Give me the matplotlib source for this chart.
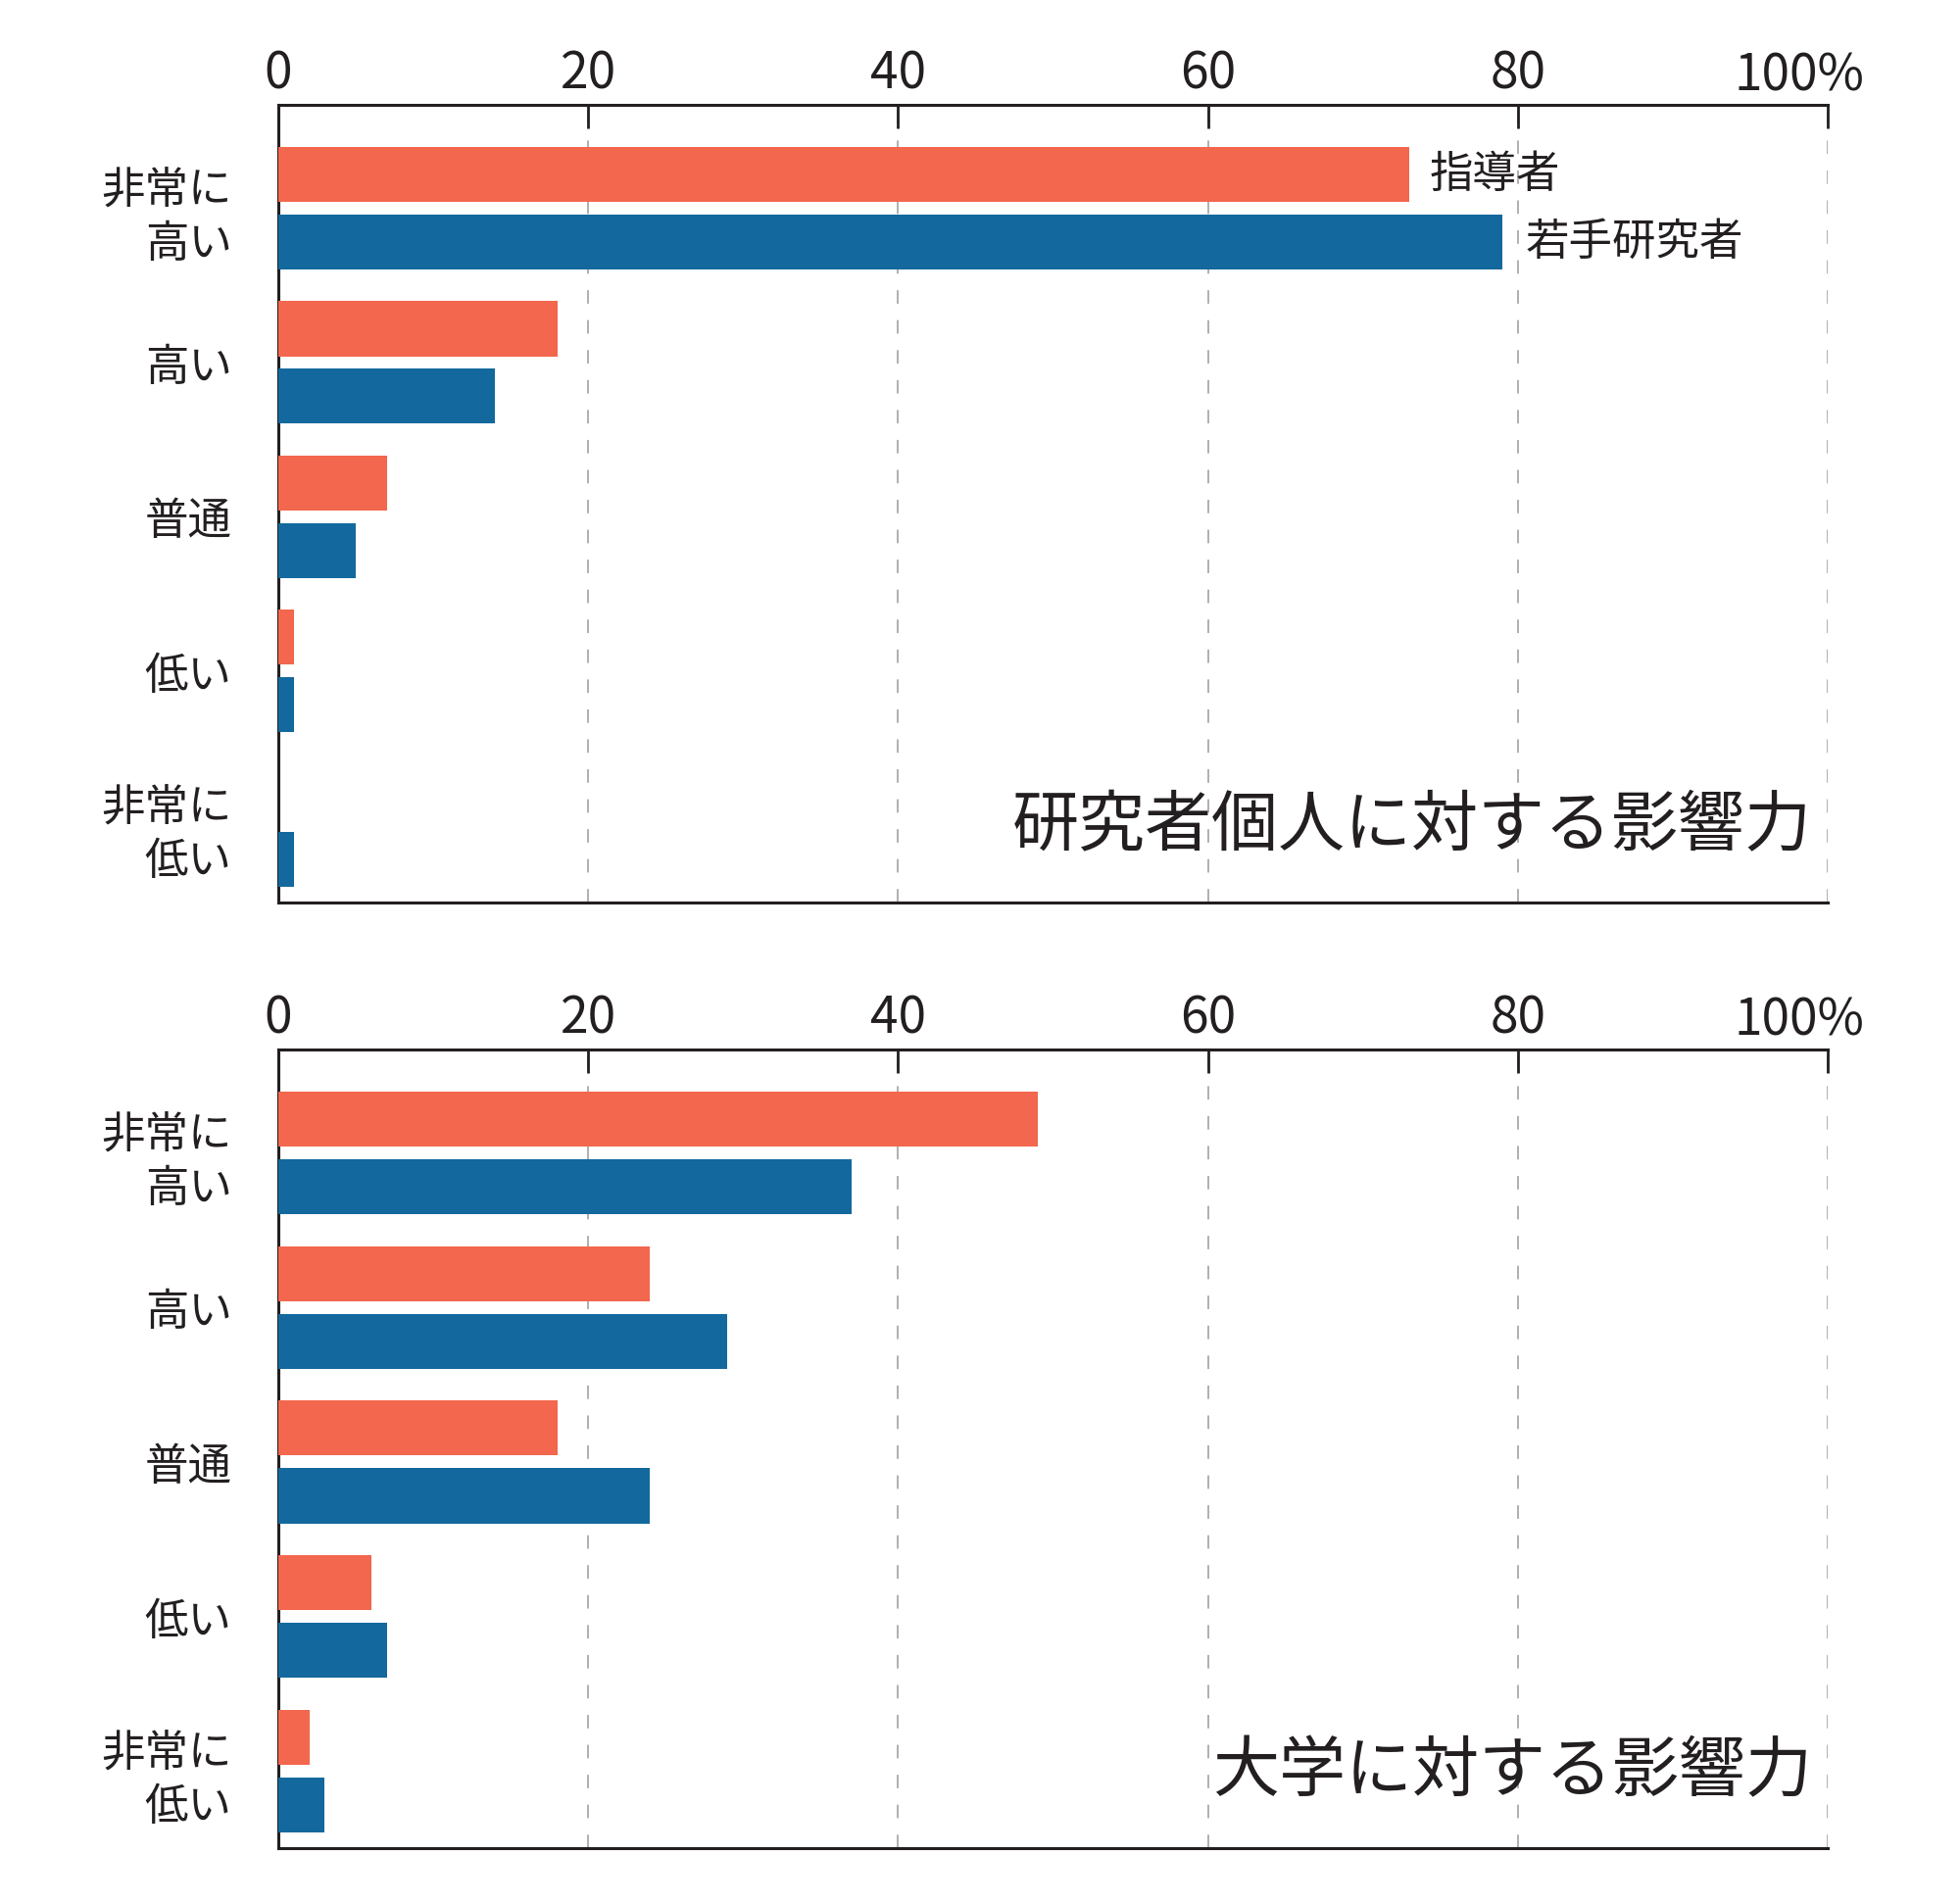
import matplotlib

matplotlib.use("Agg")
import matplotlib.pyplot as plt
import numpy as np

plt.rcParams["font.family"] = ["Noto Sans CJK JP", "DejaVu Sans"]

categories = ["非常に\n高い", "高い", "普通", "低い", "非常に\n低い"]
series_names = ["指導者", "若手研究者"]

# 研究者個人に対する影響力
individual_mentor = [73, 18, 7, 1, 0]
individual_young = [79, 14, 5, 1, 1]

# 大学に対する影響力
university_mentor = [49, 24, 18, 6, 2]
university_young = [37, 29, 24, 7, 3]

panel_titles = ["研究者個人に対する影響力", "大学に対する影響力"]
x_ticks = [0, 20, 40, 60, 80, 100]
x_tick_labels = ["0", "20", "40", "60", "80", "100%"]

ORANGE = "#F2674D"
BLUE = "#13699D"
TEXT = "#231F20"
TICK_FS = 37


def draw_panel(ax, mentor, young, title, label_bars):
    y = np.arange(len(categories))
    off = 0.219
    h = 0.356
    ax.barh(y - off, mentor, height=h, color=ORANGE, zorder=3)
    ax.barh(y + off, young, height=h, color=BLUE, zorder=3)

    ax.set_xlim(0, 100)
    ax.set_ylim(4.5, -0.67)
    ax.set_yticks(y)
    ax.set_yticklabels(categories, fontsize=32, color=TEXT, linespacing=1.23)
    ax.tick_params(axis="y", length=0, pad=34)

    ax.xaxis.tick_top()
    ax.set_xticks(x_ticks)
    # the last label ("100%") sits shifted left of its tick, drawn separately
    ax.set_xticklabels(x_tick_labels[:-1] + [""], fontsize=TICK_FS, color=TEXT)
    ax.tick_params(axis="x", direction="in", length=17, width=2.0, color=TEXT, pad=3.5)
    ax.annotate(x_tick_labels[-1], xy=(x_ticks[-1], 1.0),
                xycoords=("data", "axes fraction"), xytext=(-21, 10.8),
                textcoords="offset points", ha="center", va="baseline",
                fontsize=TICK_FS, color=TEXT, annotation_clip=False)

    for xv in x_ticks[1:]:
        ax.axvline(xv, color="#9a9a9a", linewidth=1.1, linestyle=(0, (9, 11)), zorder=1)

    for side in ("left", "top", "bottom"):
        ax.spines[side].set_linewidth(2.2)
        ax.spines[side].set_color(TEXT)
    ax.spines["right"].set_visible(False)

    if label_bars:
        ax.text(mentor[0] + 1.3, y[0] - off, series_names[0], fontsize=32,
                color=TEXT, va="center", ha="left", zorder=4)
        ax.text(young[0] + 1.5, y[0] + off, series_names[1], fontsize=32,
                color=TEXT, va="center", ha="left", zorder=4)

    ax.text(0.99, 0.094, title, transform=ax.transAxes, fontsize=49,
            color=TEXT, ha="right", va="center", zorder=4)


fig = plt.figure(figsize=(20, 19.42), dpi=100)
ax_top = fig.add_axes([0.142, 0.5257, 0.7905, 0.4192])
ax_bottom = fig.add_axes([0.142, 0.0288, 0.7905, 0.4197])

draw_panel(ax_top, individual_mentor, individual_young, panel_titles[0], True)
draw_panel(ax_bottom, university_mentor, university_young, panel_titles[1], False)

fig.savefig("out.png", dpi=100, facecolor="white")
plt.close(fig)
